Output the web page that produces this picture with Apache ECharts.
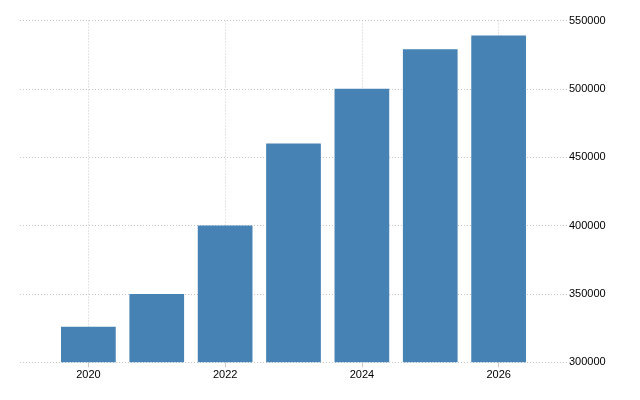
<!DOCTYPE html>
<html>
<head>
<meta charset="utf-8">
<script src="https://cdn.jsdelivr.net/npm/echarts@6/dist/echarts.min.js"></script>
<style>
html,body{margin:0;padding:0;background:#fff;}
#chart{width:640px;height:400px;}
</style>
</head>
<body>
<div id="chart"></div>
<script>
const categories = ['2019', '2020', '2021', '2022', '2023', '2024', '2025', '2026', '2027'];
const values = [null, 326000, 350000, 400000, 460000, 500000, 529000, 539000, null];
const yTicks = [300000, 350000, 400000, 450000, 500000, 550000];

const isEven = (i, v) => Number(v) % 2 === 0;

const chart = echarts.init(document.getElementById('chart'), null, { renderer: 'canvas' });
chart.setOption({
  animation: false,
  textStyle: { fontFamily: 'Liberation Sans, Arial, sans-serif' },
  grid: { left: 20, right: 73, top: 20.5, bottom: 37.7, containLabel: false },
  xAxis: {
    type: 'category',
    data: categories,
    boundaryGap: false,
    axisLine: { show: false },
    axisTick: { show: true, interval: isEven, length: 5, lineStyle: { color: '#cccccc' } },
    axisLabel: { interval: isEven, fontSize: 11, color: '#000', margin: 7,
                 fontFamily: 'Liberation Sans, Arial, sans-serif' },
    splitLine: { show: true, interval: isEven, lineStyle: { color: '#c8c8c8', type: [1, 2], width: 1 } }
  },
  yAxis: {
    type: 'value',
    position: 'right',
    min: yTicks[0],
    max: yTicks[yTicks.length - 1],
    interval: yTicks[1] - yTicks[0],
    axisLine: { show: false },
    axisTick: { show: false },
    axisLabel: { fontSize: 11, color: '#000', margin: 2,
                 formatter: (v) => String(v),
                 fontFamily: 'Liberation Sans, Arial, sans-serif' },
    splitLine: { show: true, lineStyle: { color: '#c8c8c8', type: [1, 2], width: 1 } }
  },
  series: [{
    type: 'bar',
    data: values,
    barWidth: '80%',
    itemStyle: { color: '#4682b4' }
  }]
});
</script>
</body>
</html>
